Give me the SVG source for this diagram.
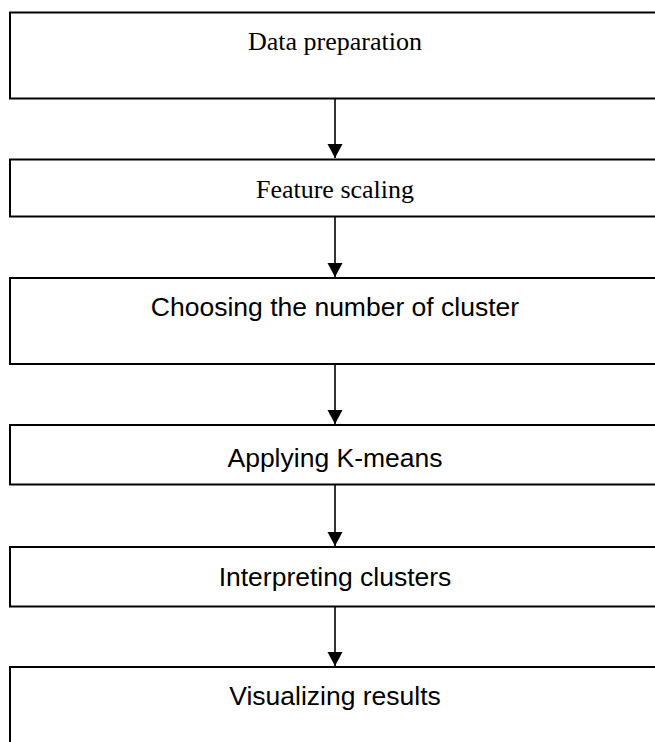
<svg xmlns="http://www.w3.org/2000/svg" width="655" height="742" viewBox="0 0 655 742">
<defs>
<style>
.box{fill:#fff;stroke:#000;stroke-width:2}
.serif{font-family:"Liberation Serif","Times New Roman",serif;font-size:26px;fill:#000;text-anchor:middle}
.sans{font-family:"Liberation Sans",Arial,sans-serif;font-size:26.5px;fill:#000;text-anchor:middle}
.conn{stroke:#000;stroke-width:1.6;fill:none;marker-end:url(#arrow)}
</style>
<marker id="arrow" markerUnits="userSpaceOnUse" markerWidth="16" markerHeight="16" refX="14" refY="7.5" orient="auto">
<path d="M0,0 L14,7.5 L0,15 Z" fill="#000"/>
</marker>
</defs>
<rect width="655" height="742" fill="#fff"/>
<g id="connectors">
<line class="conn" x1="335" y1="99" x2="335" y2="158"/>
<line class="conn" x1="335" y1="217" x2="335" y2="277"/>
<line class="conn" x1="335" y1="364" x2="335" y2="424"/>
<line class="conn" x1="335" y1="485" x2="335" y2="546"/>
<line class="conn" x1="335" y1="607" x2="335" y2="666"/>
</g>
<g id="n1"><rect class="box" x="10" y="12.5" width="670" height="86"/><text class="serif" x="335" y="50">Data preparation</text></g>
<g id="n2"><rect class="box" x="10" y="159.5" width="670" height="57"/><text class="serif" x="335" y="198">Feature scaling</text></g>
<g id="n3"><rect class="box" x="10" y="278" width="670" height="86"/><text class="sans" x="335" y="316">Choosing the number of cluster</text></g>
<g id="n4"><rect class="box" x="10" y="425" width="670" height="59.5"/><text class="sans" x="335" y="467">Applying K-means</text></g>
<g id="n5"><rect class="box" x="10" y="547" width="670" height="59.5"/><text class="sans" x="335" y="586">Interpreting clusters</text></g>
<g id="n6"><rect class="box" x="10" y="667" width="670" height="100"/><text class="sans" x="335" y="705">Visualizing results</text></g>
</svg>
